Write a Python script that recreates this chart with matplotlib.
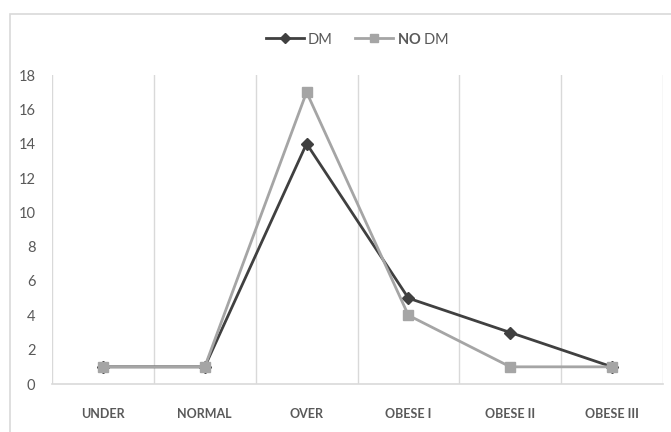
import matplotlib.pyplot as plt
import matplotlib.patches as mpatches
import numpy as np

categories = ["UNDER", "NORMAL", "OVER", "OBESE I", "OBESE II", "OBESE III"]
dm = [1, 1, 14, 5, 3, 1]
no_dm = [1, 1, 17, 4, 1, 1]
yticks = [0, 2, 4, 6, 8, 10, 12, 14, 16, 18]

plt.rcParams['font.family'] = ['Lato', 'DejaVu Sans']
plt.rcParams['mathtext.fontset'] = 'custom'
plt.rcParams['mathtext.bf'] = 'Lato:bold'
plt.rcParams['mathtext.rm'] = 'Lato'

fig = plt.figure(figsize=(6.71, 4.32), dpi=100)
ax = fig.add_axes([52 / 671, 1 - 384 / 432, (663 - 52) / 671, (384 - 75) / 432])

# outer chart border
fig.patches.append(mpatches.Rectangle((10 / 671, -0.1), 1.2, 1 - 14 / 432 + 0.1,
                                      transform=fig.transFigure, fill=False,
                                      edgecolor='#d9d9d9', linewidth=1.2))

x = np.arange(len(categories))
ax.plot(x, dm, color='#404040', linewidth=2, marker='D', markersize=6, label='DM', zorder=3)
ax.plot(x, no_dm, color='#a5a5a5', linewidth=2, marker='s', markersize=7,
        label=r'$\mathbf{NO}$ DM', zorder=4)

ax.set_xlim(-0.5, len(categories) - 0.5)
ax.set_ylim(0, 18)
ax.set_yticks(yticks)
ax.set_xticks(x)
ax.set_xticklabels(categories, fontsize=9, fontweight='bold', color='#595959')
ax.tick_params(axis='y', length=0, pad=12, labelsize=10.5, labelcolor='#595959')
ax.tick_params(axis='x', length=0, pad=17)

# vertical gridlines at category boundaries
for b in np.arange(-0.5, len(categories), 1.0):
    ax.axvline(b, color='#d9d9d9', linewidth=1, zorder=1)

for s in ['top', 'right', 'left']:
    ax.spines[s].set_visible(False)
ax.spines['bottom'].set_color('#d9d9d9')
ax.spines['bottom'].set_linewidth(1.2)

leg = ax.legend(loc='center', ncol=2, frameon=False, fontsize=10.5, handlelength=2.6,
                handletextpad=0.3, columnspacing=1.5, markerscale=0.85)
leg.set_bbox_to_anchor((0.5, (384 - 39) / 309), transform=ax.transAxes)
for t in leg.get_texts():
    t.set_color('#595959')

fig.savefig('out.png', dpi=100)
